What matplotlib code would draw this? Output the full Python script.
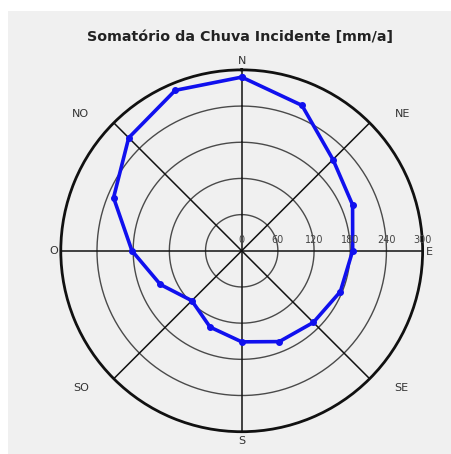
import numpy as np
import matplotlib.pyplot as plt
from matplotlib.patches import Rectangle

# Direções (16 rumos) e soma da chuva incidente [mm/a]
direcoes = np.arange(0, 360, 22.5)
chuva = [288, 261, 214, 199, 184, 177, 168, 163,
         151, 137, 117, 146, 182, 230, 265, 288]

aneis = [60, 120, 180, 240]
rotulos_r = [0, 60, 120, 180, 240, 300]
r_max = 300
rumos = [0, 45, 90, 135, 180, 225, 270, 315]
rotulos_rumos = ['N', 'NE', 'E', 'SE', 'S', 'SO', 'O', 'NO']

fig = plt.figure(figsize=(4.51, 4.54), dpi=100, facecolor='white')
fig.patches.append(Rectangle((8 / 451, 0), 1, 1 - 11 / 454, transform=fig.transFigure,
                             facecolor='#f0f0f0', edgecolor='none', zorder=-10))

ax = fig.add_axes([0.1346, 0.0491, 0.8027, 0.797], projection='polar')
ax.set_theta_zero_location('N')
ax.set_theta_direction(-1)
ax.set_ylim(0, r_max)
ax.patch.set_alpha(0)
ax.grid(False)
ax.set_xticks([])
ax.set_yticks([])
ax.spines['polar'].set_linewidth(2)
ax.spines['polar'].set_color('#111111')

# Anéis e raios
t = np.linspace(0, 2 * np.pi, 400)
for r in aneis:
    ax.plot(t, np.full_like(t, r), color='#4a4a4a', lw=1.0, zorder=1)
for a in rumos:
    ax.plot([np.radians(a), np.radians(a)], [0, r_max], color='#111111', lw=1.1, zorder=1)

# Série
th = np.radians(np.append(direcoes, direcoes[0]))
rr = np.append(chuva, chuva[0])
ax.plot(th, rr, color='#1010ee', lw=2.6, marker='o', ms=4, zorder=3)

# Rótulos radiais ao longo do eixo E
for r in rotulos_r:
    ax.annotate(str(r), (np.radians(90), r), xytext=(0, 4), textcoords='offset points',
                ha='center', va='bottom', fontsize=7, color='#444444')

# Rótulos de rumo
offsets = {'N': (0, 3, 'center', 'bottom'), 'NE': (18, 3, 'left', 'bottom'),
           'E': (2, -1, 'left', 'center'), 'SE': (18, -3, 'left', 'top'),
           'S': (0, -3, 'center', 'top'), 'SO': (-18, -3, 'right', 'top'),
           'O': (-2, 0, 'right', 'center'), 'NO': (-18, 3, 'right', 'bottom')}
for a, lab in zip(rumos, rotulos_rumos):
    dx, dy, ha, va = offsets[lab]
    ax.annotate(lab, (np.radians(a), r_max), xytext=(dx, dy), textcoords='offset points',
                ha=ha, va=va, fontsize=8, color='#333333', annotation_clip=False)

fig.text(0.533, 1 - 37 / 454, 'Somatório da Chuva Incidente [mm/a]', ha='center', va='center',
         fontsize=10.3, fontweight='bold', color='#222222')

fig.savefig('out.png', dpi=100, facecolor=fig.get_facecolor())
